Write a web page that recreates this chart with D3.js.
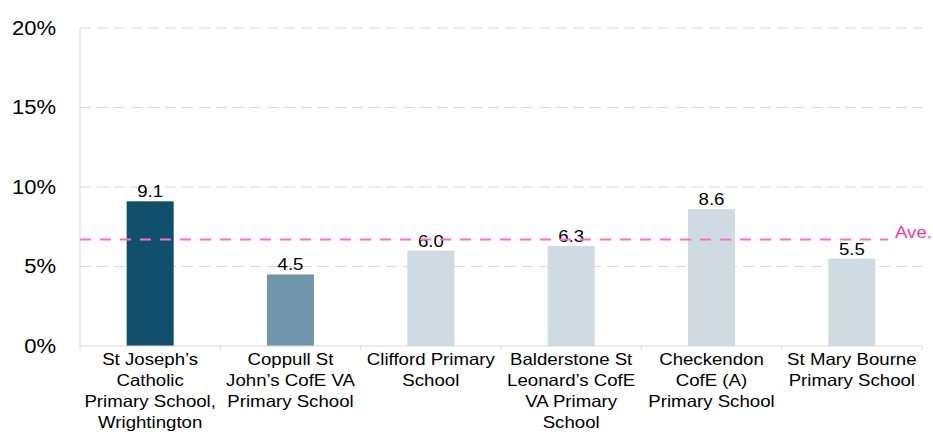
<!DOCTYPE html>
<html>
<head>
<meta charset="utf-8">
<script src="https://cdn.jsdelivr.net/npm/d3@7"></script>
<style>
body { margin: 0; background: #fff; }
text { font-family: "Liberation Sans", Arial, sans-serif; fill: #000; }
</style>
</head>
<body>
<script>
var width = 933, height = 432;
var margin = {left: 80, right: 11, top: 28, bottom: 86};
var stretch = 1.13; // text in the original looks a bit wide

var schools = [
  ["St Joseph\u2019s", "Catholic", "Primary School,", "Wrightington"],
  ["Coppull St", "John\u2019s CofE VA", "Primary School"],
  ["Clifford Primary", "School"],
  ["Balderstone St", "Leonard\u2019s CofE", "VA Primary", "School"],
  ["Checkendon", "CofE (A)", "Primary School"],
  ["St Mary Bourne", "Primary School"]
];
var values = [9.1, 4.5, 6.0, 6.3, 8.6, 5.5];
var barColors = ["#124f6a", "#7295ae", "#cfdae2", "#cfdae2", "#cfdae2", "#cfdae2"];
var average = 6.7;
var yTicks = [0, 5, 10, 15, 20];

function place(px, py) {
  return "translate(" + px + "," + py + ") scale(" + stretch + ",1)";
}

var svg = d3.select("body").append("svg")
            .attr("width", width).attr("height", height);

var x = d3.scaleBand().domain(d3.range(values.length))
          .range([margin.left, width - margin.right])
          .paddingInner(0.665).paddingOuter(0.3325);
var y = d3.scaleLinear().domain([0, 20]).range([height - margin.bottom, margin.top]);

// grid
svg.append("g").selectAll("line").data(yTicks.filter(function(d){ return d > 0; }))
   .enter().append("line")
   .attr("x1", margin.left).attr("x2", width - margin.right)
   .attr("y1", function(d){ return y(d); }).attr("y2", function(d){ return y(d); })
   .attr("stroke", "#d9d9d9").attr("stroke-width", 1.2)
   .attr("stroke-dasharray", "11,6");

// y labels
svg.append("g").selectAll("text").data(yTicks).enter().append("text")
   .attr("transform", function(d){ return place(56, y(d)); })
   .attr("dy", "0.35em").attr("text-anchor", "end")
   .style("font-size", "19.5px")
   .text(function(d){ return d + "%"; });

// y axis line
svg.append("line").attr("x1", margin.left).attr("x2", margin.left)
   .attr("y1", margin.top).attr("y2", y(0))
   .attr("stroke", "#d9d9d9").attr("stroke-width", 1);

// bars
svg.append("g").selectAll("rect").data(values).enter().append("rect")
   .attr("x", function(d, i){ return x(i); })
   .attr("width", x.bandwidth())
   .attr("y", function(d){ return y(d); })
   .attr("height", function(d){ return y(0) - y(d); })
   .attr("fill", function(d, i){ return barColors[i]; });

// value labels
svg.append("g").selectAll("text").data(values).enter().append("text")
   .attr("transform", function(d, i){ return place(x(i) + x.bandwidth() / 2, y(d) - 4); })
   .attr("text-anchor", "middle")
   .style("font-size", "16.5px")
   .text(function(d){ return d.toFixed(1); });

// x axis
var boundaries = d3.range(values.length + 1).map(function(i){ return margin.left + i * (width - margin.left - margin.right) / values.length; });
svg.append("line").attr("x1", margin.left).attr("x2", width - margin.right)
   .attr("y1", y(0)).attr("y2", y(0))
   .attr("stroke", "#d9d9d9").attr("stroke-width", 1);
svg.append("g").selectAll("line").data(boundaries).enter().append("line")
   .attr("x1", function(d){ return d; }).attr("x2", function(d){ return d; })
   .attr("y1", y(0)).attr("y2", y(0) + 4)
   .attr("stroke", "#d9d9d9");

// average line
svg.append("line").attr("x1", margin.left).attr("x2", 888)
   .attr("y1", y(average)).attr("y2", y(average))
   .attr("stroke", "#ff6ec4").attr("stroke-width", 2)
   .attr("stroke-dasharray", "11,9");
svg.append("text").attr("transform", place(895, y(average) - 1))
   .style("font-size", "16.5px").style("fill", "#ff33aa")
   .text("Ave.");

// category labels
var cat = svg.append("g").selectAll("text").data(schools).enter().append("text")
   .attr("text-anchor", "middle")
   .style("font-size", "16.5px")
   .attr("transform", function(d, i){ return place(x(i) + x.bandwidth() / 2, y(0) + 19); });
cat.selectAll("tspan").data(function(d){ return d; }).enter().append("tspan")
   .attr("x", 0).attr("y", function(d, i){ return i * 21; })
   .text(function(d){ return d; });
</script>
</body>
</html>
